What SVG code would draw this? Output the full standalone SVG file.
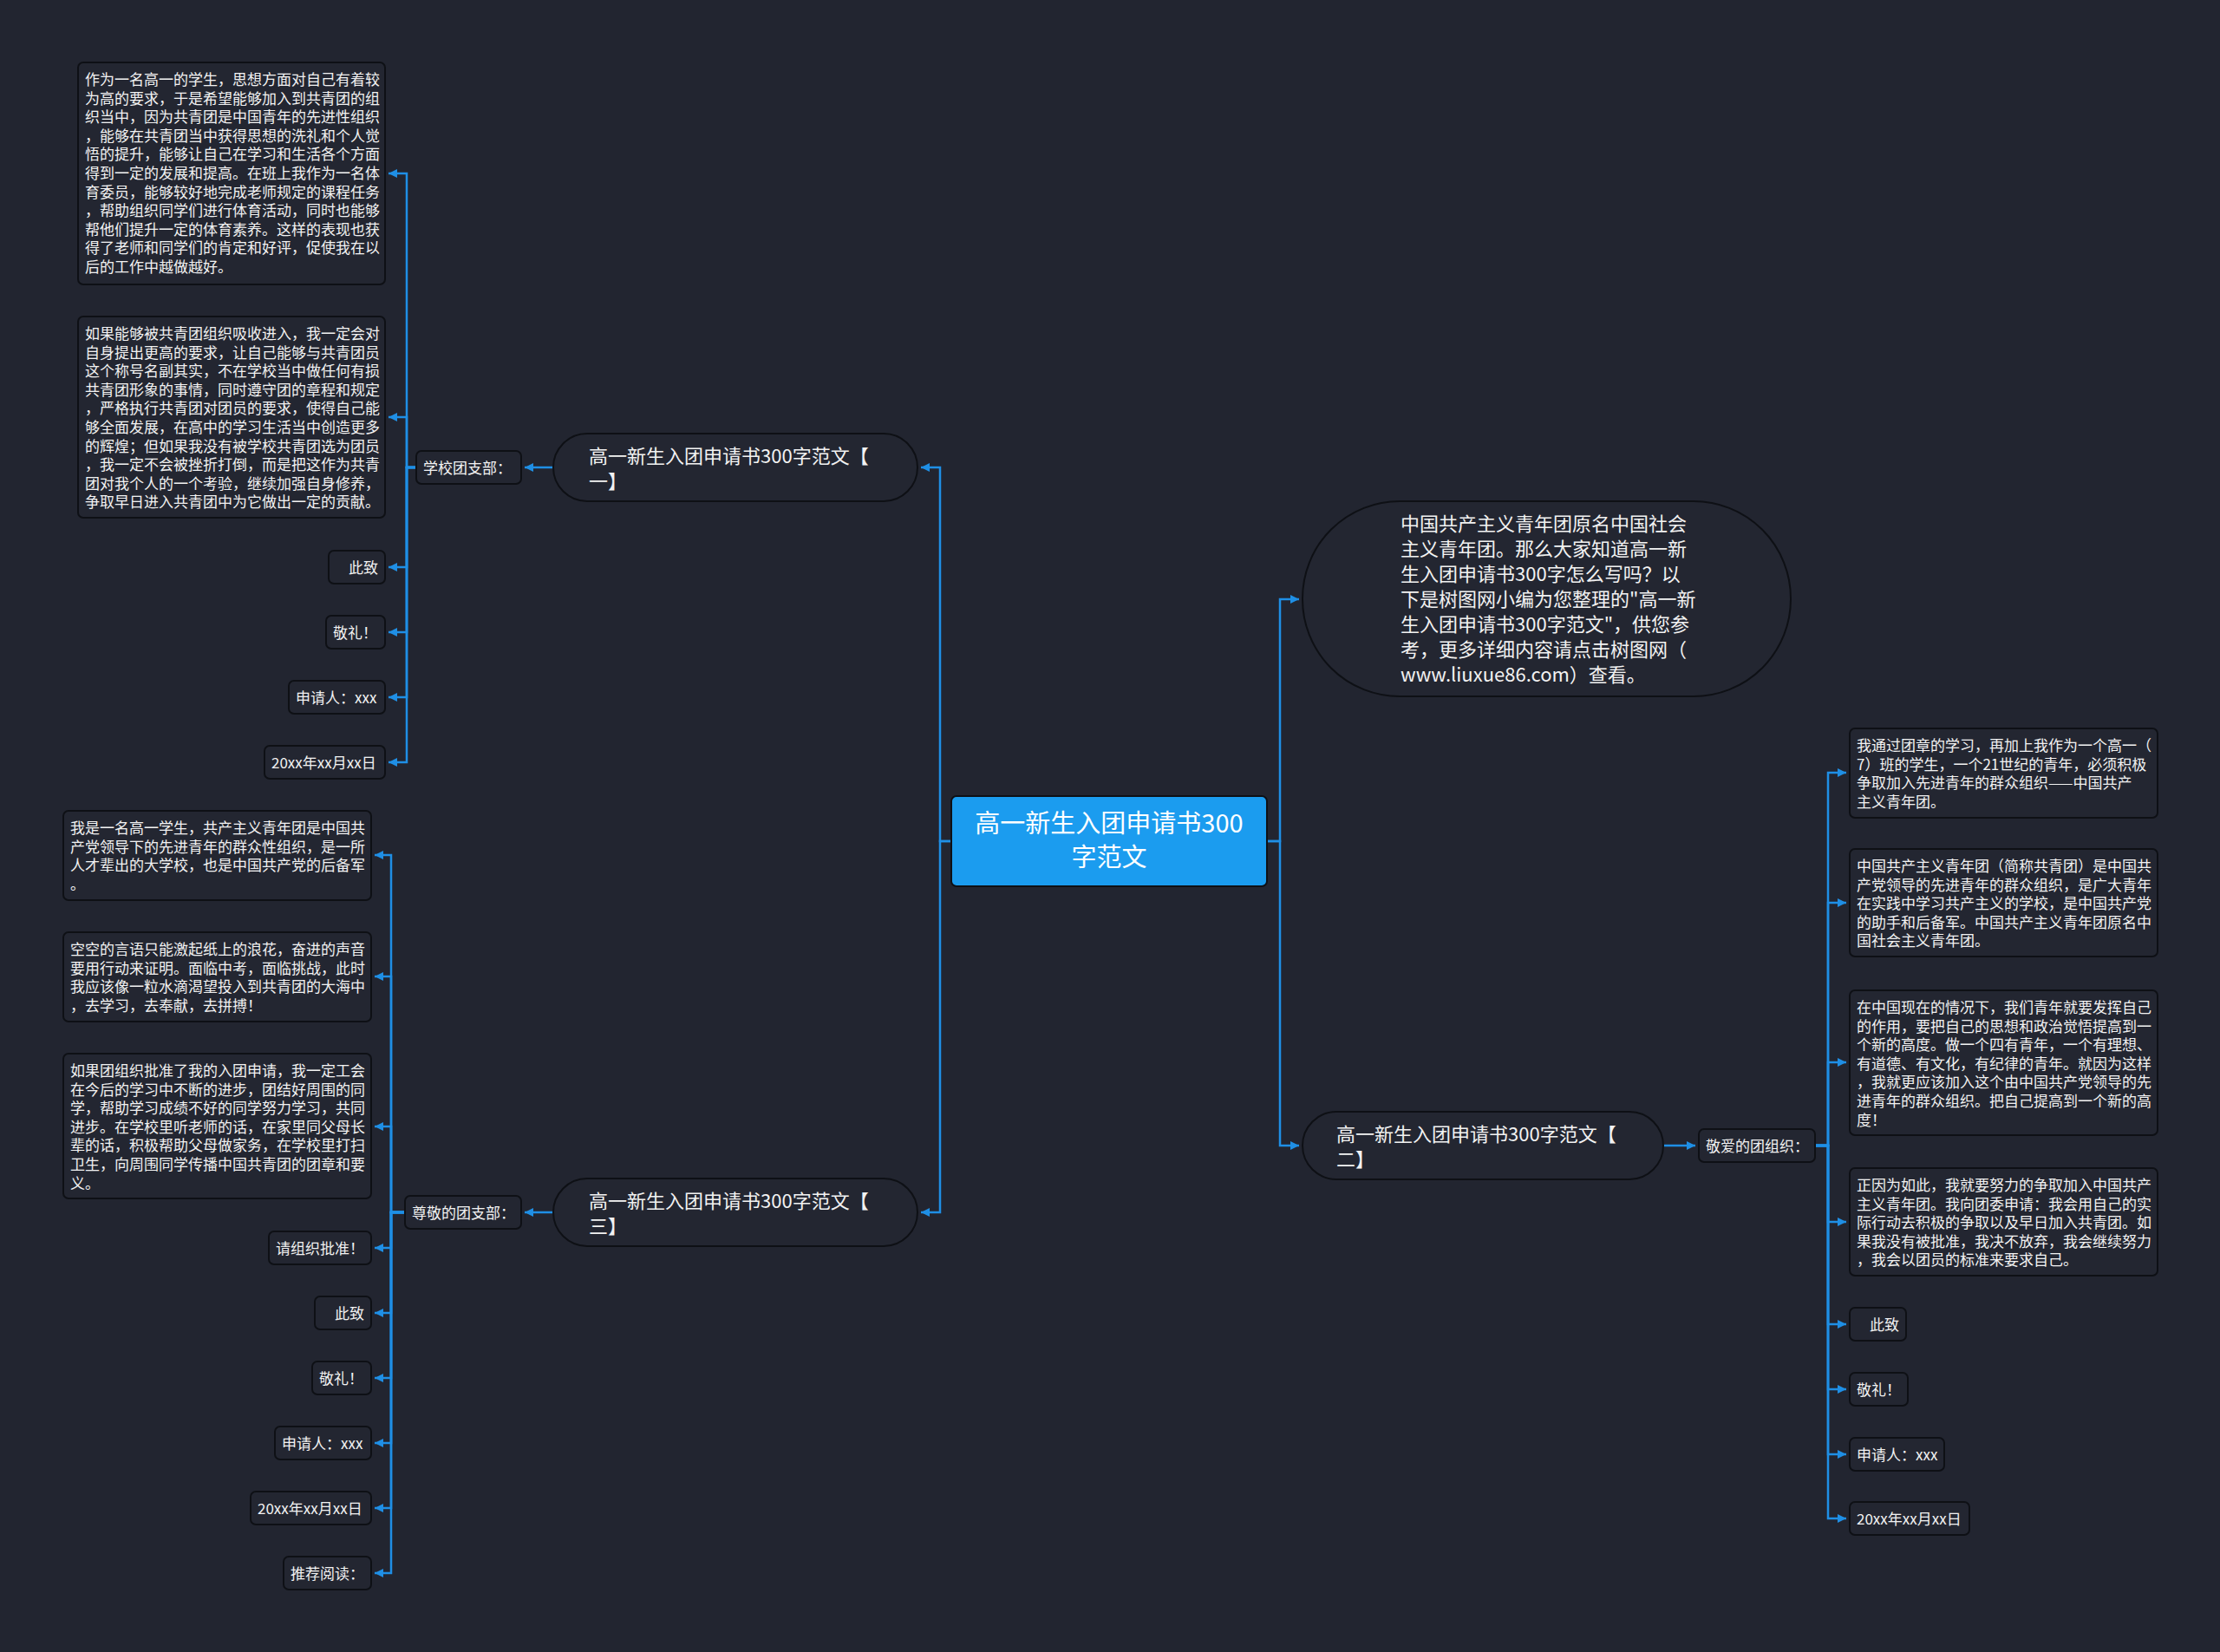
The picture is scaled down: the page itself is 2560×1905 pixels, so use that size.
<svg xmlns="http://www.w3.org/2000/svg" width="2560" height="1905" viewBox="0 0 2560 1905">
<defs>
<marker id="arr" viewBox="0 0 10 10" refX="10" refY="5" markerWidth="10" markerHeight="10" markerUnits="userSpaceOnUse" orient="auto">
<path d="M0,0 L10,5 L0,10 z" fill="#1f8fe5"/>
</marker>
<style>
text{font-family:"Noto Sans CJK SC","Noto Sans",sans-serif;fill:#f2f2f2}
.box{fill:#232631;stroke:#0e1015;stroke-width:2}
.t{font-size:17px}
.m{font-size:22px}
.c{font-size:29px;fill:#ffffff}
.ln{fill:none;stroke:#1f8fe5;stroke-width:2.5;marker-end:url(#arr)}
</style>
</defs>
<rect x="0" y="0" width="2560" height="1905" fill="#222530"/>

<g id="connectors">
<path class="ln" d="M1097,970 H1084 V539 H1062"/>
<path class="ln" d="M1097,970 H1084 V1398 H1062"/>
<path class="ln" d="M1461,970 H1476 V691 H1498"/>
<path class="ln" d="M1461,970 H1476 V1321 H1498"/>
<path class="ln" d="M638,539 H605"/>
<path class="ln" d="M638,1398 H605"/>
<path class="ln" d="M1918,1321 H1955"/>
<path class="ln" d="M480,539 H469 V200 H448"/>
<path class="ln" d="M480,539 H469 V481 H448"/>
<path class="ln" d="M480,539 H469 V654 H448"/>
<path class="ln" d="M480,539 H469 V729 H448"/>
<path class="ln" d="M480,539 H469 V804 H448"/>
<path class="ln" d="M480,539 H469 V879 H448"/>
<path class="ln" d="M2093,1321 H2108 V891 H2129"/>
<path class="ln" d="M2093,1321 H2108 V1041 H2129"/>
<path class="ln" d="M2093,1321 H2108 V1225 H2129"/>
<path class="ln" d="M2093,1321 H2108 V1409 H2129"/>
<path class="ln" d="M2093,1321 H2108 V1527 H2129"/>
<path class="ln" d="M2093,1321 H2108 V1602 H2129"/>
<path class="ln" d="M2093,1321 H2108 V1677 H2129"/>
<path class="ln" d="M2093,1321 H2108 V1751 H2129"/>
<path class="ln" d="M467,1398 H451 V986 H432"/>
<path class="ln" d="M467,1398 H451 V1126 H432"/>
<path class="ln" d="M467,1398 H451 V1299 H432"/>
<path class="ln" d="M467,1398 H451 V1439 H432"/>
<path class="ln" d="M467,1398 H451 V1514 H432"/>
<path class="ln" d="M467,1398 H451 V1589 H432"/>
<path class="ln" d="M467,1398 H451 V1664 H432"/>
<path class="ln" d="M467,1398 H451 V1739 H432"/>
<path class="ln" d="M467,1398 H451 V1814 H432"/>
</g>

<g id="root">
<rect x="1097" y="918" width="364" height="104" rx="6" fill="#1b9cef" stroke="#0e1015" stroke-width="2"/>
<text class="c" text-anchor="middle"><tspan x="1279" y="960">高一新生入团申请书300</tspan><tspan x="1279" y="999">字范文</tspan></text>
</g>

<g id="intro">
<rect class="box" x="1502" y="578" width="563" height="225" rx="112"/>
<text class="m"><tspan x="1615" y="612">中国共产主义青年团原名中国社会</tspan><tspan x="1615" y="641">主义青年团。那么大家知道高一新</tspan><tspan x="1615" y="670">生入团申请书300字怎么写吗？以</tspan><tspan x="1615" y="699">下是树图网小编为您整理的"高一新</tspan><tspan x="1615" y="728">生入团申请书300字范文"，供您参</tspan><tspan x="1615" y="757">考，更多详细内容请点击树图网（</tspan><tspan x="1615" y="786">www.liuxue86.com）查看。</tspan></text>
</g>

<g id="fanwen1">
<rect class="box" x="638" y="500" width="420" height="78" rx="39"/>
<text class="m"><tspan x="679" y="534">高一新生入团申请书300字范文【</tspan><tspan x="679" y="563">一】</tspan></text>
</g>

<g id="fanwen2">
<rect class="box" x="1502" y="1282" width="416" height="78" rx="39"/>
<text class="m"><tspan x="1541" y="1316">高一新生入团申请书300字范文【</tspan><tspan x="1541" y="1345">二】</tspan></text>
</g>

<g id="fanwen3">
<rect class="box" x="638" y="1359" width="420" height="78" rx="39"/>
<text class="m"><tspan x="679" y="1393">高一新生入团申请书300字范文【</tspan><tspan x="679" y="1422">三】</tspan></text>
</g>

<g id="xuexiao">
<rect class="box" x="480" y="520" width="121" height="38" rx="6"/>
<text class="t" x="488" y="546">学校团支部：</text>
</g>

<g id="l1-text1">
<rect class="box" x="90" y="72" width="354" height="256" rx="6"/>
<text class="t"><tspan x="98" y="98">作为一名高一的学生，思想方面对自己有着较</tspan><tspan x="98" y="119.6">为高的要求，于是希望能够加入到共青团的组</tspan><tspan x="98" y="141.2">织当中，因为共青团是中国青年的先进性组织</tspan><tspan x="98" y="162.8">，能够在共青团当中获得思想的洗礼和个人觉</tspan><tspan x="98" y="184.4">悟的提升，能够让自己在学习和生活各个方面</tspan><tspan x="98" y="206">得到一定的发展和提高。在班上我作为一名体</tspan><tspan x="98" y="227.6">育委员，能够较好地完成老师规定的课程任务</tspan><tspan x="98" y="249.2">，帮助组织同学们进行体育活动，同时也能够</tspan><tspan x="98" y="270.8">帮他们提升一定的体育素养。这样的表现也获</tspan><tspan x="98" y="292.4">得了老师和同学们的肯定和好评，促使我在以</tspan><tspan x="98" y="314">后的工作中越做越好。</tspan></text>
</g>

<g id="l1-text2">
<rect class="box" x="90" y="365" width="354" height="232" rx="6"/>
<text class="t"><tspan x="98" y="391">如果能够被共青团组织吸收进入，我一定会对</tspan><tspan x="98" y="412.6">自身提出更高的要求，让自己能够与共青团员</tspan><tspan x="98" y="434.2">这个称号名副其实，不在学校当中做任何有损</tspan><tspan x="98" y="455.8">共青团形象的事情，同时遵守团的章程和规定</tspan><tspan x="98" y="477.4">，严格执行共青团对团员的要求，使得自己能</tspan><tspan x="98" y="499">够全面发展，在高中的学习生活当中创造更多</tspan><tspan x="98" y="520.6">的辉煌；但如果我没有被学校共青团选为团员</tspan><tspan x="98" y="542.2">，我一定不会被挫折打倒，而是把这作为共青</tspan><tspan x="98" y="563.8">团对我个人的一个考验，继续加强自身修养，</tspan><tspan x="98" y="585.4">争取早日进入共青团中为它做出一定的贡献。</tspan></text>
</g>

<g id="l1-cizhi">
<rect class="box" x="379" y="635" width="65" height="38" rx="6"/>
<text class="t" x="436" y="661" text-anchor="end">此致</text>
</g>
<g id="l1-jingli">
<rect class="box" x="376" y="710" width="68" height="38" rx="6"/>
<text class="t" x="384" y="736">敬礼！</text>
</g>
<g id="l1-shenqingren">
<rect class="box" x="333" y="785" width="111" height="38" rx="6"/>
<text class="t" x="341" y="811">申请人：xxx</text>
</g>
<g id="l1-date">
<rect class="box" x="305" y="860" width="139" height="38" rx="6"/>
<text class="t" x="313" y="886">20xx年xx月xx日</text>
</g>

<g id="jingai">
<rect class="box" x="1959" y="1302" width="134" height="38" rx="6"/>
<text class="t" x="1967" y="1328">敬爱的团组织：</text>
</g>

<g id="r-text1">
<rect class="box" x="2133" y="840" width="355" height="103" rx="6"/>
<text class="t"><tspan x="2141" y="866">我通过团章的学习，再加上我作为一个高一（</tspan><tspan x="2141" y="887.6">7）班的学生，一个21世纪的青年，必须积极</tspan><tspan x="2141" y="909.2">争取加入先进青年的群众组织——中国共产</tspan><tspan x="2141" y="930.8">主义青年团。</tspan></text>
</g>
<g id="r-text2">
<rect class="box" x="2133" y="979" width="355" height="124" rx="6"/>
<text class="t"><tspan x="2141" y="1005">中国共产主义青年团（简称共青团）是中国共</tspan><tspan x="2141" y="1026.6">产党领导的先进青年的群众组织，是广大青年</tspan><tspan x="2141" y="1048.2">在实践中学习共产主义的学校，是中国共产党</tspan><tspan x="2141" y="1069.8">的助手和后备军。中国共产主义青年团原名中</tspan><tspan x="2141" y="1091.4">国社会主义青年团。</tspan></text>
</g>
<g id="r-text3">
<rect class="box" x="2133" y="1142" width="355" height="167" rx="6"/>
<text class="t"><tspan x="2141" y="1168">在中国现在的情况下，我们青年就要发挥自己</tspan><tspan x="2141" y="1189.6">的作用，要把自己的思想和政治觉悟提高到一</tspan><tspan x="2141" y="1211.2">个新的高度。做一个四有青年，一个有理想、</tspan><tspan x="2141" y="1232.8">有道德、有文化，有纪律的青年。就因为这样</tspan><tspan x="2141" y="1254.4">，我就更应该加入这个由中国共产党领导的先</tspan><tspan x="2141" y="1276">进青年的群众组织。把自己提高到一个新的高</tspan><tspan x="2141" y="1297.6">度！</tspan></text>
</g>
<g id="r-text4">
<rect class="box" x="2133" y="1347" width="355" height="124" rx="6"/>
<text class="t"><tspan x="2141" y="1373">正因为如此，我就要努力的争取加入中国共产</tspan><tspan x="2141" y="1394.6">主义青年团。我向团委申请：我会用自己的实</tspan><tspan x="2141" y="1416.2">际行动去积极的争取以及早日加入共青团。如</tspan><tspan x="2141" y="1437.8">果我没有被批准，我决不放弃，我会继续努力</tspan><tspan x="2141" y="1459.4">，我会以团员的标准来要求自己。</tspan></text>
</g>
<g id="r-cizhi">
<rect class="box" x="2133" y="1508" width="65" height="38" rx="6"/>
<text class="t" x="2190" y="1534" text-anchor="end">此致</text>
</g>
<g id="r-jingli">
<rect class="box" x="2133" y="1583" width="67" height="38" rx="6"/>
<text class="t" x="2141" y="1609">敬礼！</text>
</g>
<g id="r-shenqingren">
<rect class="box" x="2133" y="1658" width="109" height="38" rx="6"/>
<text class="t" x="2141" y="1684">申请人：xxx</text>
</g>
<g id="r-date">
<rect class="box" x="2133" y="1732" width="138" height="38" rx="6"/>
<text class="t" x="2141" y="1758">20xx年xx月xx日</text>
</g>

<g id="zunjing">
<rect class="box" x="467" y="1379" width="134" height="38" rx="6"/>
<text class="t" x="475" y="1405">尊敬的团支部：</text>
</g>

<g id="l3-text1">
<rect class="box" x="73" y="935" width="355" height="103" rx="6"/>
<text class="t"><tspan x="81" y="961">我是一名高一学生，共产主义青年团是中国共</tspan><tspan x="81" y="982.6">产党领导下的先进青年的群众性组织，是一所</tspan><tspan x="81" y="1004.2">人才辈出的大学校，也是中国共产党的后备军</tspan><tspan x="81" y="1025.8">。</tspan></text>
</g>
<g id="l3-text2">
<rect class="box" x="73" y="1075" width="355" height="103" rx="6"/>
<text class="t"><tspan x="81" y="1101">空空的言语只能激起纸上的浪花，奋进的声音</tspan><tspan x="81" y="1122.6">要用行动来证明。面临中考，面临挑战，此时</tspan><tspan x="81" y="1144.2">我应该像一粒水滴渴望投入到共青团的大海中</tspan><tspan x="81" y="1165.8">，去学习，去奉献，去拼搏！</tspan></text>
</g>
<g id="l3-text3">
<rect class="box" x="73" y="1215" width="355" height="167" rx="6"/>
<text class="t"><tspan x="81" y="1241">如果团组织批准了我的入团申请，我一定工会</tspan><tspan x="81" y="1262.6">在今后的学习中不断的进步，团结好周围的同</tspan><tspan x="81" y="1284.2">学，帮助学习成绩不好的同学努力学习，共同</tspan><tspan x="81" y="1305.8">进步。在学校里听老师的话，在家里同父母长</tspan><tspan x="81" y="1327.4">辈的话，积极帮助父母做家务，在学校里打扫</tspan><tspan x="81" y="1349">卫生，向周围同学传播中国共青团的团章和要</tspan><tspan x="81" y="1370.6">义。</tspan></text>
</g>
<g id="l3-pizhun">
<rect class="box" x="310" y="1420" width="118" height="38" rx="6"/>
<text class="t" x="318" y="1446">请组织批准！</text>
</g>
<g id="l3-cizhi">
<rect class="box" x="363" y="1495" width="65" height="38" rx="6"/>
<text class="t" x="420" y="1521" text-anchor="end">此致</text>
</g>
<g id="l3-jingli">
<rect class="box" x="360" y="1570" width="68" height="38" rx="6"/>
<text class="t" x="368" y="1596">敬礼！</text>
</g>
<g id="l3-shenqingren">
<rect class="box" x="317" y="1645" width="111" height="38" rx="6"/>
<text class="t" x="325" y="1671">申请人：xxx</text>
</g>
<g id="l3-date">
<rect class="box" x="289" y="1720" width="139" height="38" rx="6"/>
<text class="t" x="297" y="1746">20xx年xx月xx日</text>
</g>
<g id="l3-tuijian">
<rect class="box" x="327" y="1795" width="101" height="38" rx="6"/>
<text class="t" x="335" y="1821">推荐阅读：</text>
</g>
</svg>
